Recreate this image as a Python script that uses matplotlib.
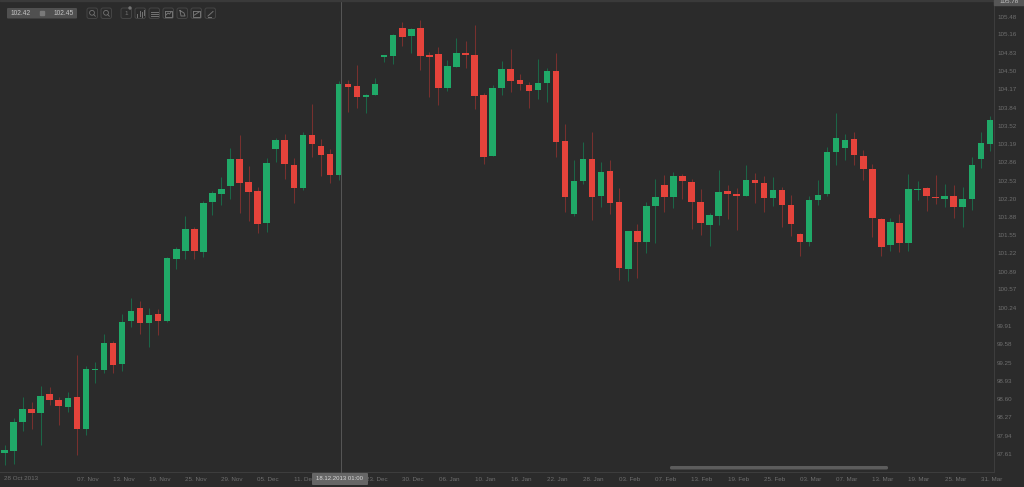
import matplotlib
matplotlib.use("Agg")
import matplotlib.pyplot as plt
from matplotlib.patches import FancyBboxPatch, Rectangle, Circle
from matplotlib.transforms import ScaledTranslation
import numpy as np

highs = [97.77,98.26,98.63,98.54,98.83,98.81,98.63,98.72,99.39,99.19,99.26,99.77,99.64,100.13,100.42,100.36,100.24,100.22,101.15,101.33,
         101.89,101.69,102.16,102.34,102.59,103.12,103.35,102.79,102.41,102.94,103.30,103.37,102.94,103.40,103.91,103.28,103.10,104.32,104.34,104.61,
         104.09,104.38,104.79,105.17,105.38,105.28,105.42,104.84,104.93,104.70,105.10,105.04,105.33,104.11,104.25,104.68,104.90,104.45,104.30,104.72,
         104.56,104.83,103.55,102.90,103.22,103.40,102.86,102.90,102.40,101.62,101.75,102.14,102.56,102.63,102.68,102.65,102.56,102.38,101.95,102.72,
         102.45,102.40,102.81,102.67,102.61,102.59,102.41,102.27,101.59,102.25,102.54,103.13,103.75,103.37,103.40,103.08,102.83,101.86,101.86,101.93,
         102.65,102.52,102.41,102.63,102.47,102.45,102.41,102.95,103.40,103.69]
lows = [97.41,97.43,98.02,98.06,97.77,98.49,98.13,98.36,97.59,97.95,98.89,99.07,99.07,99.10,99.89,99.77,99.53,99.75,99.98,100.94,
        101.12,101.12,101.15,101.91,102.09,102.20,101.95,101.80,101.59,101.60,102.86,102.56,102.13,102.36,102.95,102.61,102.49,102.54,103.76,103.84,
        103.75,104.07,104.66,104.63,104.95,104.83,104.52,104.03,103.89,104.14,104.57,104.56,103.82,102.83,102.97,104.07,104.12,104.16,103.84,104.00,
        103.94,102.95,101.96,101.89,102.47,101.82,102.05,101.93,100.74,100.72,100.78,101.23,101.41,101.96,102.04,102.20,101.66,101.55,101.35,101.73,
        101.84,101.64,102.25,102.13,101.96,102.07,101.69,101.53,101.17,101.35,102.09,102.25,102.81,102.90,102.81,102.54,101.51,101.17,101.26,101.24,
        101.26,102.18,101.98,102.11,102.05,101.86,101.69,102.00,102.76,103.06]
opens = [97.63,97.66,98.18,98.42,98.35,98.69,98.58,98.45,98.63,98.06,99.12,99.12,99.61,99.23,100.00,100.24,99.97,100.13,100.00,101.12,
         101.26,101.66,101.24,102.14,102.29,102.43,102.92,102.50,102.34,101.77,103.10,103.26,102.81,102.40,103.35,103.15,103.01,102.63,104.27,104.23,
         104.03,104.07,104.75,104.77,105.28,105.13,105.28,104.79,104.81,104.20,104.57,104.83,104.79,104.07,102.97,104.20,104.54,104.34,104.25,104.16,
         104.29,104.50,103.24,101.93,102.52,102.92,102.25,102.70,102.14,100.94,101.62,101.42,102.07,102.45,102.23,102.61,102.50,102.14,101.73,101.89,
         102.34,102.29,102.25,102.54,102.49,102.22,102.36,102.09,101.57,101.42,102.18,102.29,103.04,103.12,103.28,102.97,102.74,101.84,101.37,101.77,
         101.41,102.36,102.40,102.23,102.20,102.25,102.05,102.20,102.92,103.19]
closes = [97.68,98.18,98.42,98.35,98.65,98.58,98.47,98.62,98.06,99.14,99.14,99.61,99.21,99.98,100.18,99.97,100.11,100.00,101.14,101.30,
          101.66,101.26,102.13,102.31,102.38,102.92,102.49,102.32,101.75,102.85,103.26,102.83,102.40,103.35,103.19,102.99,102.63,104.27,104.21,104.03,
          104.07,104.27,104.79,105.15,105.11,105.26,104.77,104.75,104.20,104.59,104.83,104.79,104.05,102.95,104.20,104.54,104.32,104.27,104.14,104.29,
          104.50,103.22,102.23,102.52,102.92,102.23,102.68,102.13,100.96,101.62,101.42,102.07,102.23,102.23,102.61,102.52,102.14,101.77,101.91,102.32,
          102.29,102.25,102.54,102.49,102.22,102.36,102.09,101.75,101.42,102.18,102.27,103.04,103.30,103.26,102.99,102.74,101.86,101.33,101.78,101.41,
          102.38,102.38,102.25,102.22,102.25,102.05,102.20,102.81,103.21,103.62]

price_ticks = [105.48,105.16,104.83,104.50,104.17,103.84,103.52,103.19,102.86,102.53,102.20,101.88,101.55,
               101.22,100.89,100.57,100.24,99.91,99.58,99.25,98.93,98.60,98.27,97.94,97.61]
date_positions = [9,13,17,21,25,29,33,41,45,49,53,57,61,65,69,73,77,81,85,89,93,97,101,105,109]
date_labels = ["07. Nov","13. Nov","19. Nov","25. Nov","29. Nov","05. Dec","11. Dec","23. Dec","30. Dec",
               "06. Jan","10. Jan","16. Jan","22. Jan","28. Jan","03. Feb","07. Feb","13. Feb","19. Feb",
               "25. Feb","03. Mar","07. Mar","13. Mar","19. Mar","25. Mar","31. Mar"]
first_date = "28 Oct 2013"
cross_date = "18.12.2013 01:00"
bid, ask = "102.42", "102.45"
top_price = "105.78"

BG = "#2b2b2b"; UP = "#20a968"; DOWN = "#e5433b"; UPW = "#1c6547"; DOWNW = "#77302e"
AXC = "#3d3d3d"; TXT = "#6f6f6f"; W, H = 1024, 487

plt.rcParams["font.family"] = ["Liberation Sans", "DejaVu Sans"]
fig = plt.figure(figsize=(W/100, H/100), dpi=100, facecolor=BG)
ax = fig.add_axes([0, (H-472)/H, 994/W, 472/H], facecolor=BG)
ax.set_xlim(-0.498, 109.46)
ax.set_ylim(97.284, 105.78)

o, c, hi, lo = map(np.array, (opens, closes, highs, lows))
idx = np.arange(len(o))
up = c >= o
ax.vlines(idx[up], lo[up], hi[up], color=UPW, lw=0.75, zorder=2)
ax.vlines(idx[~up], lo[~up], hi[~up], color=DOWNW, lw=0.75, zorder=2)
ax.bar(idx[up], (c-o)[up], bottom=o[up], width=0.72, color=UP, zorder=3)
ax.bar(idx[~up], (c-o)[~up], bottom=o[~up], width=0.72, color=DOWN, zorder=3)

ax.yaxis.tick_right()
ax.set_yticks(price_ticks, [f"{v:.2f}" for v in price_ticks])
ax.set_xticks(date_positions, date_labels)
ax.tick_params(axis="y", length=0, pad=2.2, labelsize=4.5, labelcolor=TXT)
ax.tick_params(axis="x", length=0, pad=3.3, labelsize=4.5, labelcolor=TXT)
shift = ScaledTranslation(1.5/100, 0, fig.dpi_scale_trans)
for lab in ax.get_xticklabels():
    lab.set_transform(lab.get_transform() + shift)
for s in ("top", "left"):
    ax.spines[s].set_visible(False)
for s in ("right", "bottom"):
    ax.spines[s].set_color(AXC); ax.spines[s].set_linewidth(0.8)

# overlay in pixel space for the platform chrome
ov = fig.add_axes([0, 0, 1, 1], facecolor="none")
ov.set_xlim(0, W); ov.set_ylim(H, 0); ov.axis("off")
ov.plot([340.5, 340.5], [0, 472], color="#555555", lw=0.75, zorder=1)
ov.add_patch(Rectangle((0, 0), W, 1, color="#3a3a3a", zorder=1))
ov.text(3.5, 478.5, first_date, fontsize=4.5, color=TXT, va="center", ha="left")
ov.add_patch(FancyBboxPatch((312, 473), 56, 12, boxstyle="round,pad=0,rounding_size=1", fc="#666666", ec="none", zorder=5))
ov.text(340, 479, cross_date, fontsize=4.3, color="#d8d8d8", va="center", ha="center", zorder=6)
ov.add_patch(FancyBboxPatch((670, 466), 218, 3.5, boxstyle="round,pad=0,rounding_size=1.5", fc="#5c5c5c", ec="none"))
ov.add_patch(Rectangle((994, 0), 30, 4.5, color="#565656", clip_on=True, zorder=4))
ov.text(1009, 1.2, top_price, fontsize=4.5, color="#c8c8c8", va="center", ha="center", zorder=5)

# quote box and toolbar
ov.add_patch(FancyBboxPatch((7, 8), 70, 10.5, boxstyle="round,pad=0,rounding_size=1", fc="#505050", ec="none"))
ov.add_patch(Rectangle((40, 11), 4, 4, color="#7a7a7a"))
ov.text(10.5, 13.3, bid, fontsize=4.8, color="#c4c4c4", va="center", ha="left")
ov.text(74, 13.3, ask, fontsize=4.8, color="#c4c4c4", va="center", ha="right")
BTN = "#454545"; GL = "#747474"
for bx in (87, 101, 121, 135, 149, 163, 177, 191, 205):
    ov.add_patch(FancyBboxPatch((bx, 8), 10.5, 10.5, boxstyle="round,pad=0,rounding_size=2", fc="none", ec=BTN, lw=0.7))
for bx in (87, 101):
    ov.add_patch(Circle((bx+5, 12.8), 2.4, fc="none", ec=GL, lw=0.6))
    ov.plot([bx+6.8, bx+8.3], [14.6, 16.2], color=GL, lw=0.6)
ov.text(126.2, 13.6, "1", fontsize=4.5, color=GL, va="center", ha="center")
ov.add_patch(Circle((130, 8), 1, color=GL))
glyphs = {
    135: [([2,2],[6,9]), ([4.5,4.5],[3,8]), ([7,7],[4,9]), ([9,9],[2,7])],
    149: [([2,9],[3.5,3.5]), ([2,9],[5.5,5.5]), ([2,9],[7.5,7.5])],
    163: [([2,2,9,9,2],[2.5,8.5,8.5,2.5,2.5]), ([3,5,6.5,8.5],[7,5,6,3.5])],
    177: [([3,7,8,4,3],[2.5,5,8,8,2.5])],
    191: [([2,2,9,9,2],[2.5,8.5,8.5,2.5,2.5]), ([3.5,8],[7,4])],
    205: [([3,8],[8,3.5]), ([2.5,6],[8.5,8.5])],
}
for bx, segs in glyphs.items():
    for xs, ys in segs:
        ov.plot(np.array(xs)+bx, np.array(ys)+8, color=GL, lw=0.7)

fig.savefig("out.png", dpi=100, facecolor=BG)
